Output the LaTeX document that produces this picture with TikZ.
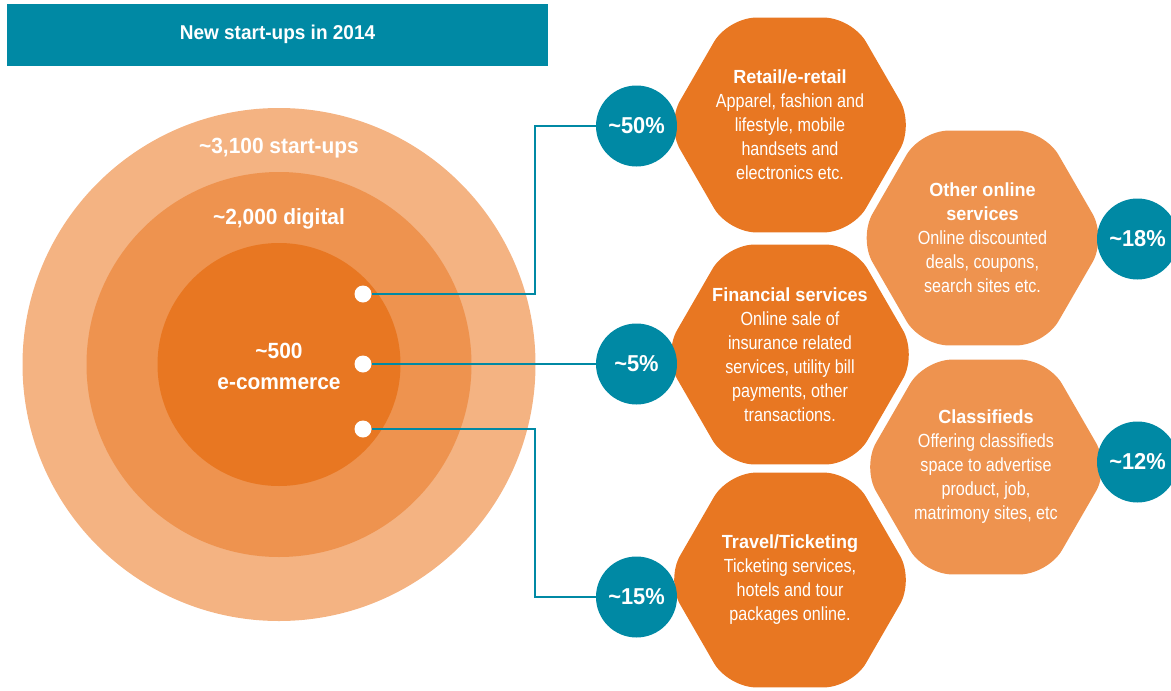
\documentclass[tikz,border=0pt]{standalone}
\usepackage{fontspec}
\setmainfont{Liberation Sans}[FakeStretch=0.85, BoldFeatures={FakeStretch=0.95}]
\usetikzlibrary{shapes.geometric, positioning}
\definecolor{tealmain}{RGB}{0,137,164}
\definecolor{orangedeep}{RGB}{232,119,34}
\definecolor{orangemid}{RGB}{238,147,79}
\definecolor{orangepale}{RGB}{244,179,130}

\begin{document}
\begin{tikzpicture}[
    x=1pt, y=-1pt,
    ring/.style={circle, inner sep=0pt},
    ringtext/.style={text=white, align=center, font=\bfseries\fontsize{22}{31}\selectfont},
    header/.style={fill=tealmain, minimum width=541pt, minimum height=62pt,
                   text=white, font=\bfseries\fontsize{20}{24}\selectfont},
    hexa/.style={regular polygon, regular polygon sides=6, minimum size=248pt,
                 inner sep=0pt, rounded corners=28pt, align=center, text=white,
                 font=\fontsize{19}{24}\selectfont},
    share/.style={circle, fill=tealmain, minimum size=81pt, inner sep=0pt,
                  text=white, font=\bfseries\fontsize{23}{26}\selectfont},
    spot/.style={circle, fill=white, minimum size=17pt, inner sep=0pt},
    link/.style={draw=tealmain, line width=2pt},
]
    \useasboundingbox (0,0) rectangle (1171,691);

    % Header
    \node[header] (banner) at (277.5,34.5) {New start-ups in 2014};

    % Rings
    \node[ring, fill=orangepale, minimum size=513pt] (startups) at (279,364.5) {};
    \node[ring, fill=orangemid,  minimum size=385pt] (digital)  at (279,364.5) {};
    \node[ring, fill=orangedeep, minimum size=243pt] (ecom)     at (279,364.5) {};
    \node[ringtext] at (279,148) {\textasciitilde3,100 start-ups};
    \node[ringtext] at (279,219) {\textasciitilde2,000 digital};
    \node[ringtext] at (279,366) {\textasciitilde500\\e-commerce};

    % Spots
    \node[spot] (s1) at (363,294) {};
    \node[spot] (s2) at (363,364) {};
    \node[spot] (s3) at (363,429) {};

    % Segments
    \node[hexa, fill=orangedeep] (retail) at (790,125)
        {\textbf{Retail/e-retail}\\Apparel, fashion and\\lifestyle, mobile\\handsets and\\electronics etc.};
    \node[hexa, fill=orangedeep] (finance) at (790,354.5)
        {\textbf{Financial services}\\Online sale of\\insurance related\\services, utility bill\\payments, other\\transactions.};
    \node[hexa, fill=orangedeep] (travel) at (790,580)
        {\textbf{Travel/Ticketing}\\Ticketing services,\\hotels and tour\\packages online.};
    \node[hexa, fill=orangemid] (online) at (982.5,238)
        {\textbf{Other online}\\\textbf{services}\\Online discounted\\deals, coupons,\\search sites etc.};
    \node[hexa, fill=orangemid] (classif) at (986,467)
        {\textbf{Classifieds}\\Offering classifieds\\space to advertise\\product, job,\\matrimony sites, etc};

    % Shares
    \node[share] (p50) at (636.5,126) {\textasciitilde50\%};
    \node[share] (p5)  at (636.5,364) {\textasciitilde5\%};
    \node[share] (p15) at (636.5,597) {\textasciitilde15\%};
    \node[share] (p18) at (1137.5,239) {\textasciitilde18\%};
    \node[share] (p12) at (1137.5,462) {\textasciitilde12\%};

    % Links
    \coordinate (elbow) at (535,0);
    \draw[link] (s1) -| (elbow |- p50) -- (p50);
    \draw[link] (s2) -- (p5);
    \draw[link] (s3) -| (elbow |- p15) -- (p15);
\end{tikzpicture}
\end{document}
